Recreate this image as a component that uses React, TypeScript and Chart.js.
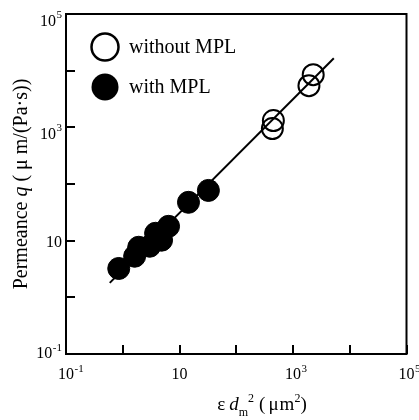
import React, { useEffect, useRef } from "react";
import { Chart, registerables } from "chart.js";

Chart.register(...registerables);

// ---- data ----
const withoutMplX = [433, 451, 1910, 2270];
const withoutMplY = [953, 1318, 5440, 8510];
const withMplX = [0.85, 1.62, 1.91, 2.98, 3.79, 4.83, 6.41, 14.4, 32.3];
const withMplY = [3.23, 5.31, 7.65, 7.97, 13.5, 10.2, 17.9, 47.5, 77];
const fitX = [0.59, 5240];
const fitY = [1.8, 16600];

const tickValues = [0.1, 1, 10, 100, 1000, 10000, 100000];
const tickBase = ["10", "", "10", "", "10", "", "10"];
const tickExp = ["-1", "", "", "", "3", "", "5"];

const seriesLabels = ["without MPL", "with MPL"];

const SERIF = '"Liberation Serif", "Times New Roman", serif';

type Seg = { t?: string; style?: "n" | "i" | "sub" | "sup"; gap?: number };

const xTitle: Seg[] = [
  { t: "ε", style: "n" },
  { gap: 4 },
  { t: "d", style: "i" },
  { t: "m", style: "sub" },
  { t: "2", style: "sup" },
  { gap: 5 },
  { t: "(", style: "n" },
  { gap: 3 },
  { t: "μ", style: "n" },
  { gap: 1 },
  { t: "m", style: "n" },
  { t: "2", style: "sup" },
  { t: ")", style: "n" },
];

const yTitle: Seg[] = [
  { t: "Permeance ", style: "n" },
  { t: "q", style: "i" },
  { t: " ( μ m/(Pa·s))", style: "n" },
];

function segFont(style: string | undefined, size: number) {
  if (style === "i") return `italic ${size}px ${SERIF}`;
  if (style === "sub" || style === "sup") return `${Math.round(size * 0.65)}px ${SERIF}`;
  return `${size}px ${SERIF}`;
}

function drawSegs(ctx: CanvasRenderingContext2D, segs: Seg[], cx: number, baseline: number, size: number) {
  let total = 0;
  for (const s of segs) {
    if (s.gap) { total += s.gap; continue; }
    ctx.font = segFont(s.style, size);
    total += ctx.measureText(s.t || "").width;
  }
  let x = cx - total / 2;
  ctx.textAlign = "left";
  ctx.textBaseline = "alphabetic";
  for (const s of segs) {
    if (s.gap) { x += s.gap; continue; }
    ctx.font = segFont(s.style, size);
    let dy = 0;
    if (s.style === "sub") dy = size * 0.3;
    if (s.style === "sup") dy = -size * 0.4;
    ctx.fillText(s.t || "", x, baseline + dy);
    x += ctx.measureText(s.t || "").width;
  }
}

const framePlugin = {
  id: "frameAxes",
  afterDraw(chart: any) {
    const { ctx, chartArea: a, scales } = chart;
    const xs = scales.x;
    const ys = scales.y;
    ctx.save();
    ctx.strokeStyle = "#000";
    ctx.fillStyle = "#000";
    ctx.lineWidth = 2;
    ctx.strokeRect(a.left, a.top, a.right - a.left, a.bottom - a.top);

    // inward ticks
    ctx.beginPath();
    tickValues.forEach((v) => {
      const px = Math.round(xs.getPixelForValue(v));
      ctx.moveTo(px, a.bottom);
      ctx.lineTo(px, a.bottom - 9);
      const py = Math.round(ys.getPixelForValue(v));
      ctx.moveTo(a.left, py);
      ctx.lineTo(a.left + 9, py);
    });
    ctx.stroke();

    // tick labels
    const baseFont = `16px ${SERIF}`;
    const supFont = `11px ${SERIF}`;
    ctx.textBaseline = "alphabetic";
    ctx.textAlign = "left";
    tickValues.forEach((v, i) => {
      const b = tickBase[i];
      if (!b) return;
      const e = tickExp[i];
      // x axis
      const px = xs.getPixelForValue(v);
      ctx.font = baseFont;
      const wb = ctx.measureText(b).width;
      const x0 = px - wb / 2;
      ctx.fillText(b, x0, a.bottom + 25);
      if (e) {
        ctx.font = supFont;
        ctx.fillText(e, x0 + wb + 0.5, a.bottom + 17.5);
      }
      // y axis
      const py = ys.getPixelForValue(v);
      ctx.font = supFont;
      const ws = e ? ctx.measureText(e).width + 0.5 : 0;
      const right = a.left - 4;
      const yb = e ? Math.min(py + 11.5, a.bottom + 4) : py + 6.5;
      ctx.font = baseFont;
      ctx.fillText(b, right - ws - wb, yb);
      if (e) {
        ctx.font = supFont;
        ctx.fillText(e, right - ws + 0.5, yb - 7.5);
      }
    });

    // axis titles
    drawSegs(ctx, xTitle, 262, 410, 19);
    ctx.save();
    ctx.translate(27, (a.top + a.bottom) / 2);
    ctx.rotate(-Math.PI / 2);
    drawSegs(ctx, yTitle, 0, 0, 20);
    ctx.restore();

    // legend
    const lx = a.left + 39;
    const ly = [a.top + 33, a.top + 73];
    chart.data.datasets.forEach((ds: any) => {
      const idx = seriesLabels.indexOf(ds.label);
      if (idx < 0) return;
      const cy = ly[idx];
      ctx.beginPath();
      ctx.arc(lx, cy, 13.5, 0, Math.PI * 2);
      if (idx === 1) {
        ctx.fill();
      } else {
        ctx.lineWidth = 2.5;
        ctx.stroke();
      }
      ctx.font = `20px ${SERIF}`;
      ctx.textAlign = "left";
      ctx.fillText(ds.label, lx + 24, cy + 6);
    });
    ctx.restore();
  },
};

export default function App() {
  const ref = useRef<HTMLCanvasElement>(null);
  useEffect(() => {
    if (!ref.current) return;
    const chart = new Chart(ref.current, {
      type: "scatter",
      data: {
        datasets: [
          {
            label: seriesLabels[1],
            data: withMplX.map((x, i) => ({ x, y: withMplY[i] })),
            backgroundColor: "#000",
            borderColor: "#000",
            borderWidth: 1,
            pointRadius: 11,
            order: 0,
          },
          {
            label: seriesLabels[0],
            data: withoutMplX.map((x, i) => ({ x, y: withoutMplY[i] })),
            backgroundColor: "rgba(0,0,0,0)",
            borderColor: "#000",
            borderWidth: 2,
            pointRadius: 10.5,
            order: 1,
          },
          {
            label: "fit",
            data: fitX.map((x, i) => ({ x, y: fitY[i] })),
            showLine: true,
            borderColor: "#000",
            borderWidth: 2,
            pointRadius: 0,
            order: 2,
          } as any,
        ],
      },
      options: {
        animation: false,
        responsive: true,
        maintainAspectRatio: false,
        layout: { padding: { left: 66, top: 14, right: 11, bottom: 66 } },
        plugins: { legend: { display: false }, tooltip: { enabled: false } },
        scales: {
          x: { type: "logarithmic", min: 0.1, max: 100000, display: false },
          y: { type: "logarithmic", min: 0.1, max: 100000, display: false },
        },
      },
      plugins: [framePlugin],
    });
    return () => chart.destroy();
  }, []);
  return (
    <div style={{ position: "absolute", left: 0, top: 0, width: 419, height: 420, background: "#fff" }}>
      <canvas ref={ref} />
    </div>
  );
}
